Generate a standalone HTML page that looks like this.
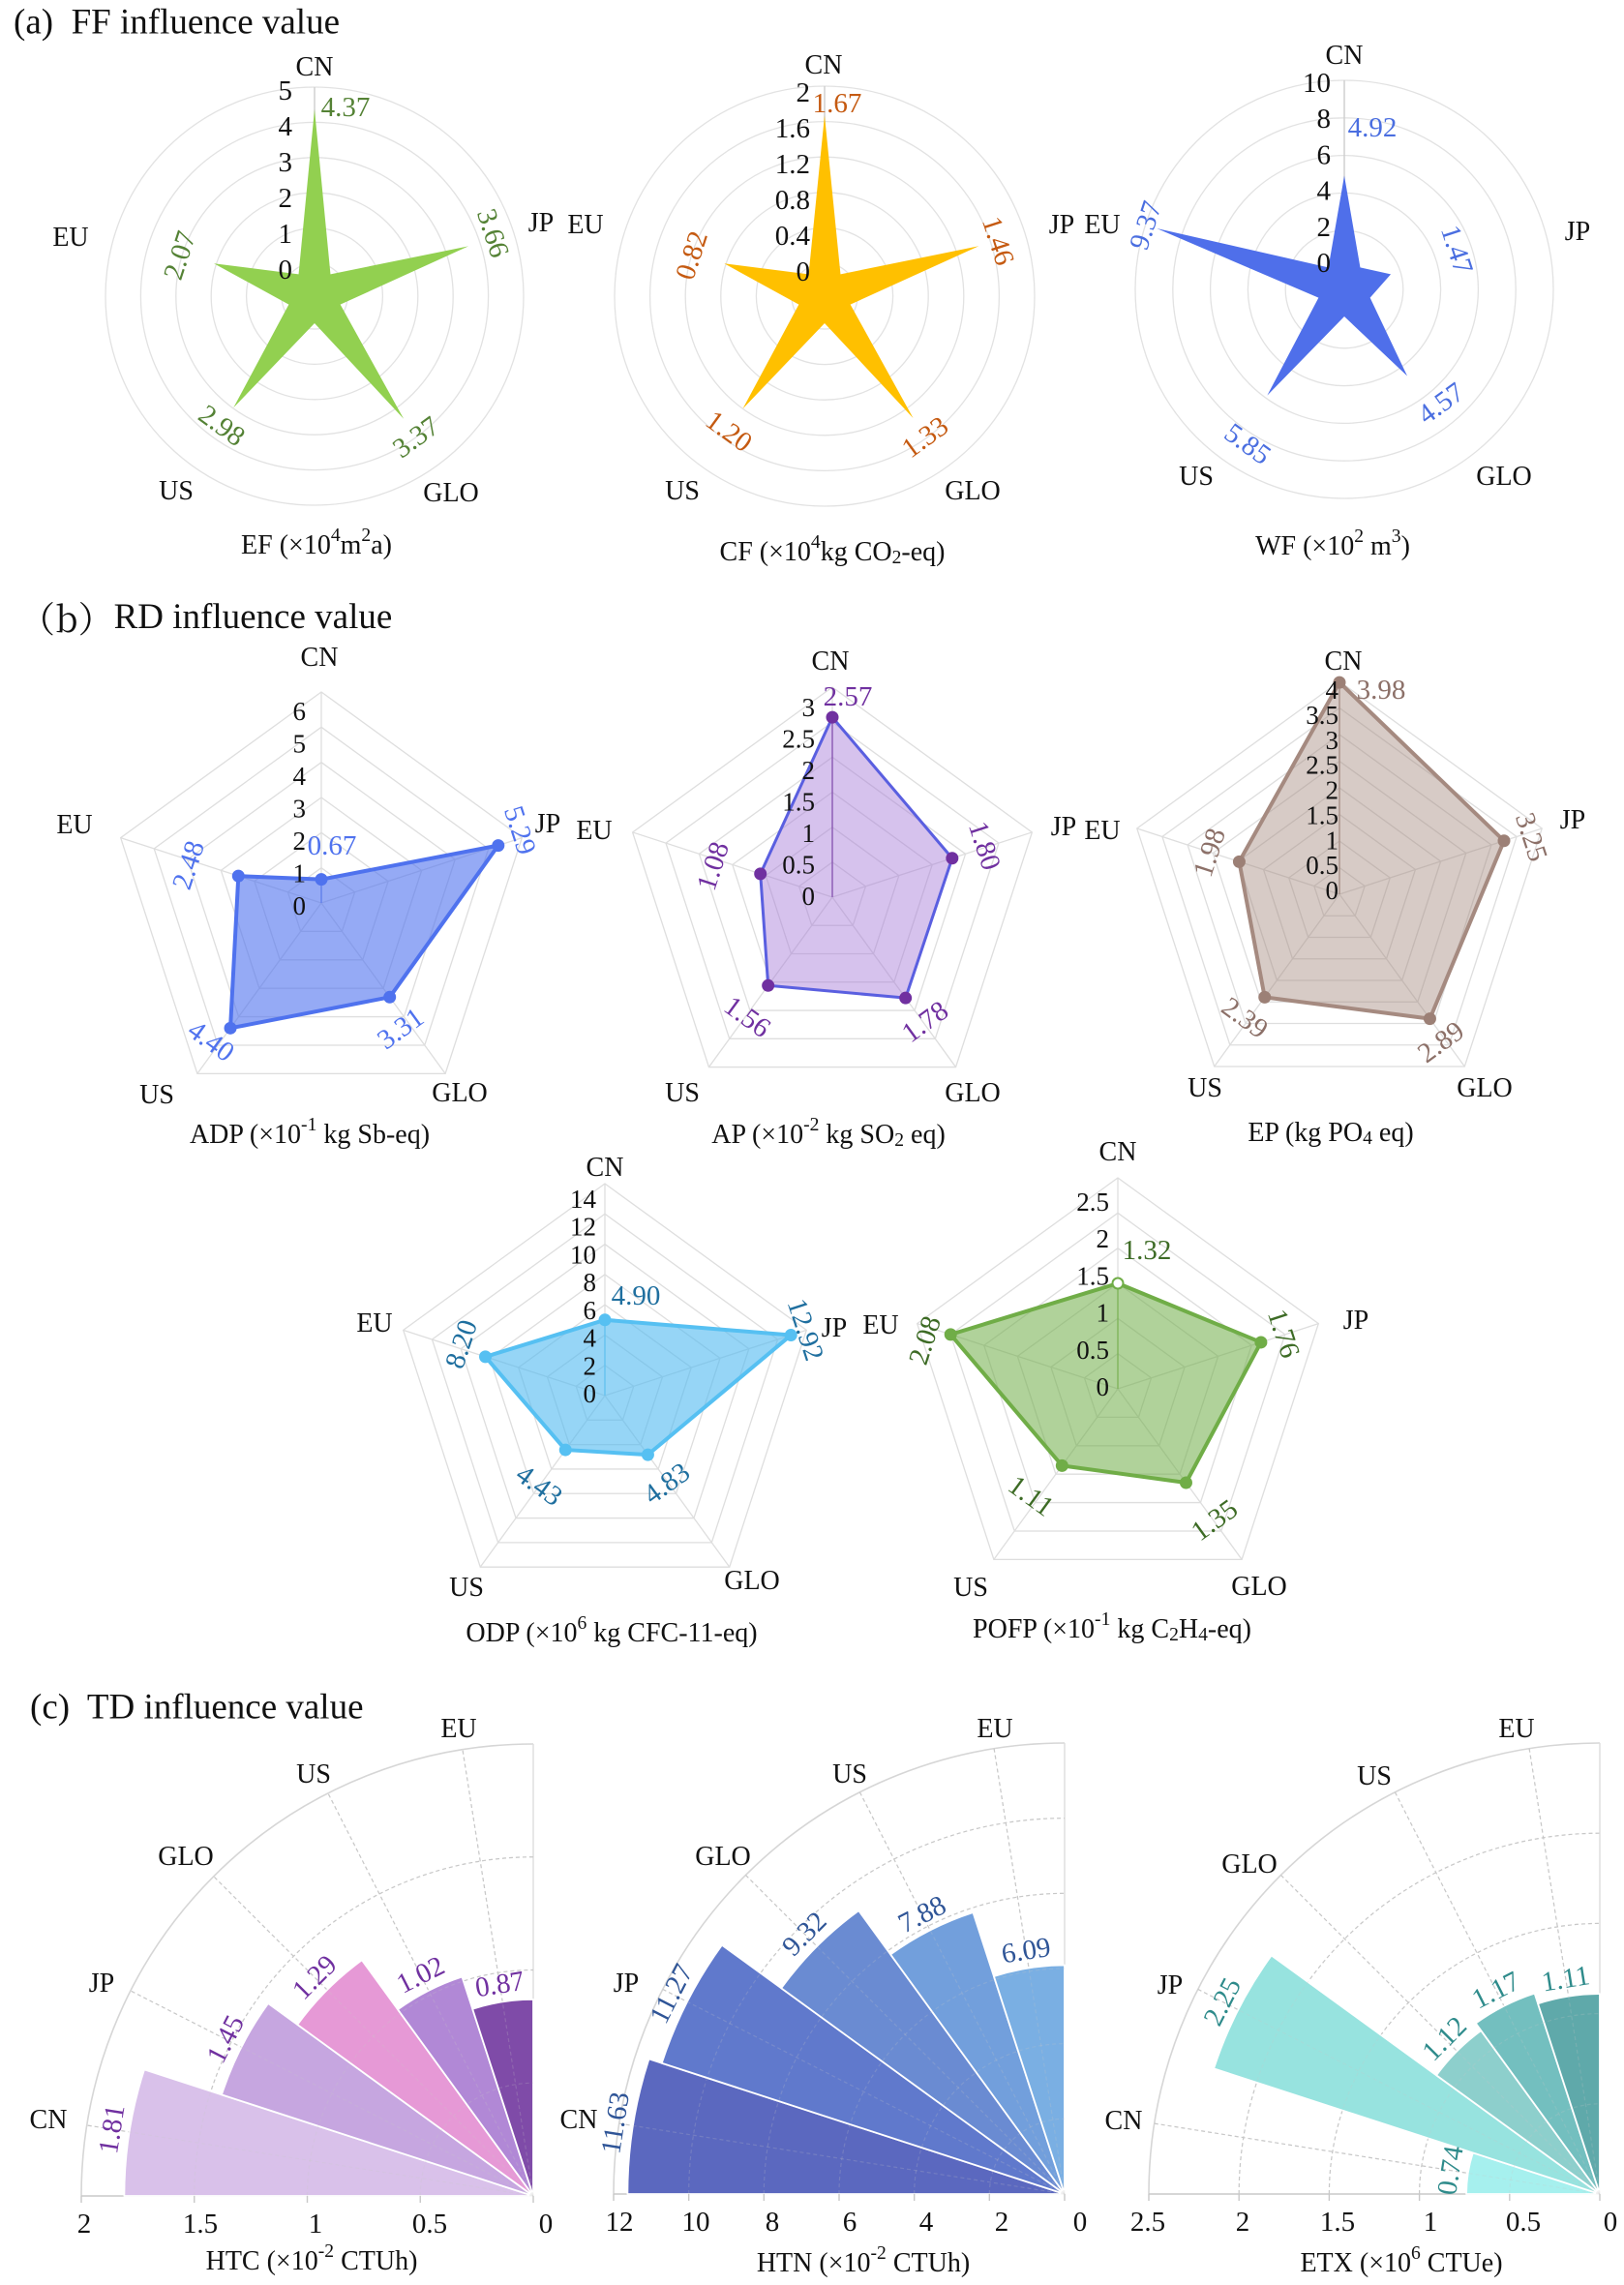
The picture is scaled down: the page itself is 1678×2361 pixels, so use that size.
<!DOCTYPE html>
<html><head><meta charset="utf-8"><style>
html,body{margin:0;padding:0;background:#fff;}
svg{display:block;}
text{font-family:"Liberation Serif","Times New Roman",serif;}
</style></head><body>
<svg id="s" xmlns="http://www.w3.org/2000/svg" width="1678" height="2361" viewBox="0 0 1678 2361" font-family="Liberation Serif, serif">
<rect width="1678" height="2361" fill="#fff"/>
<text x="14" y="23" font-size="37" dominant-baseline="central" fill="#111" xml:space="preserve">(a)  FF influence value</text>
<text x="20" y="637" font-size="37" dominant-baseline="central" fill="#111" style="font-family:'Noto Serif CJK SC','Liberation Serif',serif">（b）<tspan style="font-family:'Liberation Serif',serif">RD influence value</tspan></text>
<text x="31" y="1764" font-size="37" dominant-baseline="central" fill="#111" xml:space="preserve">(c)  TD influence value</text>
</svg>
<script>
const NS='http://www.w3.org/2000/svg';const svg=document.getElementById('s');
function mk(tag,attrs,parent){parent=parent||svg;const e=document.createElementNS(NS,tag);for(const k in attrs)e.setAttribute(k,attrs[k]);parent.appendChild(e);return e;}
function T(x,y,s,o){o=o||{};const fs=o.fs||28;const t=mk('text',{x:x,y:y,'text-anchor':o.a||'middle','dominant-baseline':'central','font-size':fs,fill:o.c||'#111','font-family':'Liberation Serif, serif'});
 if(o.rot)t.setAttribute('transform','rotate('+o.rot+' '+x+' '+y+')');
 let shift=0;const re=/([\^_])\{([^}]*)\}/g;let last=0,m;
 const add=(txt,target)=>{const sp=mk('tspan',{dy:(target-shift)},t);if(target!==0)sp.setAttribute('font-size',fs*0.7);sp.textContent=txt;shift=target;};
 while((m=re.exec(s))){if(m.index>last)add(s.slice(last,m.index),0);add(m[2],m[1]==='^'?-fs*0.35:fs*0.22);last=re.lastIndex;}
 if(last<s.length)add(s.slice(last),0);return t;}
function pol(cx,cy,r,deg){const a=deg*Math.PI/180;return [cx+r*Math.sin(a),cy-r*Math.cos(a)];}
const CATS=['CN','JP','GLO','US','EU'];

function radarA(p){
 for(let k=0;k<=5;k++)mk('circle',{cx:p.cx,cy:p.cy,r:p.r0+k*(p.R-p.r0)/5,fill:'none',stroke:'#e2e2e2','stroke-width':1.3});
 mk('line',{x1:p.cx,y1:p.cy,x2:p.cx,y2:p.cy-p.R,stroke:'#d0d0d0','stroke-width':1.5});
 let pts=[];
 for(let i=0;i<5;i++){const r=p.r0+(p.R-p.r0)*p.v[i]/p.max;pts.push(pol(p.cx,p.cy,r,i*72));pts.push(pol(p.cx,p.cy,28,i*72+36));}
 mk('polygon',{points:pts.map(q=>q.join(',')).join(' '),fill:p.fill});
 const n=p.ticks.length;for(let i=0;i<n;i++){const y=p.ty0+(p.ty1-p.ty0)*i/(n-1);T(p.tx,y,p.ticks[i],{a:'end',fs:29});}
 for(let i=0;i<5;i++)T(p.cat[i][0],p.cat[i][1],CATS[i]);
 for(let i=0;i<5;i++)T(p.lab[i][0],p.lab[i][1],p.v[i].toFixed(2),{c:p.lc,fs:29,rot:[0,72,-36,36,-72][i]});
 T(p.title[0],p.title[1],p.title[2]);
}
function radarB(p){
 for(let k=1;k<=p.n;k++){let pts=[];for(let i=0;i<5;i++)pts.push(pol(p.cx,p.cy,p.R*k/p.n,i*72));mk('polygon',{points:pts.map(q=>q.join(',')).join(' '),fill:'none',stroke:'#dedede','stroke-width':1.3});}
 for(let i=0;i<5;i++){const q=pol(p.cx,p.cy,p.R,i*72);mk('line',{x1:p.cx,y1:p.cy,x2:q[0],y2:q[1],stroke:'#dedede','stroke-width':1.3});}
 let pts=[];for(let i=0;i<5;i++)pts.push(pol(p.cx,p.cy,p.R*p.pv[i]/p.max,i*72));
 mk('polygon',{points:pts.map(q=>q.join(',')).join(' '),fill:p.fill,stroke:p.stroke,'stroke-width':p.sw||4,'stroke-linejoin':'round'});
 mk('line',{x1:p.cx,y1:p.cy,x2:pts[0][0],y2:pts[0][1],stroke:p.mc,'stroke-width':1.2,opacity:0.8});
 pts.forEach((q,i)=>mk('circle',{cx:q[0],cy:q[1],r:5.5,fill:(p.whiteCN&&i==0)?'#fff':p.mc,stroke:p.mc,'stroke-width':2}));
 const n=p.ticks.length;for(let i=0;i<n;i++){const y=p.ty0+(p.ty1-p.ty0)*i/(n-1);T(p.tx,y,p.ticks[i],{a:'end',fs:27});}
 for(let i=0;i<5;i++)T(p.cat[i][0],p.cat[i][1],CATS[i]);
 for(let i=0;i<5;i++)T(p.lab[i][0],p.lab[i][1],p.v[i].toFixed(2),{c:p.lc,fs:29,rot:[0,72,-36,36,-72][i]});
 T(p.title[0],p.title[1],p.title[2]);
}
function fan(p){
 const cx=p.cx,cy=p.cy,R=p.R;
 const P=(r,phi)=>{const a=phi*Math.PI/180;return [cx-r*Math.cos(a),cy-r*Math.sin(a)];};
 const arc=(r,a1,a2)=>{const s=P(r,a1),e=P(r,a2);return 'M'+s[0]+','+s[1]+' A'+r+','+r+' 0 0 1 '+e[0]+','+e[1];};
 const dashed=(op)=>{
  p.grid.forEach(v=>mk('path',{d:arc(R*v/p.max,0,90),fill:'none',stroke:'#c8c8c8','stroke-width':1.2,'stroke-dasharray':'4 3',opacity:op}));
  for(let i=0;i<5;i++){const q=P(R,i*18+9);mk('line',{x1:cx,y1:cy,x2:q[0],y2:q[1],stroke:'#c8c8c8','stroke-width':1.2,'stroke-dasharray':'4 3',opacity:op});}
 };
 mk('path',{d:arc(R,0,90),fill:'none',stroke:'#d6d6d6','stroke-width':1.6});
 mk('line',{x1:cx-R,y1:cy,x2:cx,y2:cy,stroke:'#c8c8c8','stroke-width':1.6});
 mk('line',{x1:cx,y1:cy-R,x2:cx,y2:cy,stroke:'#dddddd','stroke-width':1.4});
 dashed(1);
 for(let i=0;i<5;i++){const r=R*p.v[i]/p.max;const a=P(r,i*18),b=P(r,i*18+18);
  mk('path',{d:'M'+cx+','+cy+' L'+a[0]+','+a[1]+' A'+r+','+r+' 0 0 1 '+b[0]+','+b[1]+' Z',fill:p.colors[i],stroke:'#fff','stroke-width':1.8,'stroke-linejoin':'round'});}
 dashed(0.22);
 p.ticks.forEach(t=>{const x=cx-R*t[0]/p.max;mk('line',{x1:x,y1:cy,x2:x,y2:cy+7,stroke:'#c8c8c8','stroke-width':1.4});T(t[2],p.ty,t[1],{fs:29});});
 for(let i=0;i<5;i++){const r=R*p.v[i]/p.max+18;const q=P(r,i*18+9);T(q[0],q[1],p.v[i].toFixed(2),{c:p.lc,fs:29,rot:i*18+9-90});}
 for(let i=0;i<5;i++)T(p.cat[i][0],p.cat[i][1],CATS[i]);
 T(p.title[0],p.title[1],p.title[2]);
}

radarA({cx:325,cy:306,R:216,r0:34,max:5,v:[4.37,3.66,3.37,2.98,2.07],fill:'#92d050',lc:'#548235',
 ticks:['0','1','2','3','4','5'],ty0:279,ty1:94,tx:302,
 cat:[[325,69],[559,230],[466,509],[182,507],[73,245]],
 lab:[[357,111],[509,241],[430,452],[229,440],[186,264]],title:[327,563,'EF (×10^{4}m^{2}a)']});
radarA({cx:852,cy:306,R:217,r0:34,max:2,v:[1.67,1.46,1.33,1.20,0.82],fill:'#ffc000',lc:'#c55a11',
 ticks:['0','0.4','0.8','1.2','1.6','2'],ty0:281,ty1:96,tx:837,
 cat:[[851,67],[1097,232],[1005,507],[705,507],[605,232]],
 lab:[[865,107],[1031,249],[956,452],[753,446],[715,264]],title:[860,570,'CF (×10^{4}kg CO_{2}-eq)']});
radarA({cx:1389,cy:299,R:216,r0:22,max:10,v:[4.92,1.47,4.57,5.85,9.37],fill:'#4f6fea',lc:'#4a6ee0',
 ticks:['0','2','4','6','8','10'],ty0:272,ty1:86,tx:1375,
 cat:[[1389,57],[1630,239],[1554,492],[1236,492],[1139,232]],
 lab:[[1418,132],[1505,258],[1489,417],[1289,459],[1184,233]],title:[1377,564,'WF (×10^{2} m^{3})']});

radarB({cx:332,cy:933,R:218,n:6,max:6,v:[0.67,5.29,3.31,4.40,2.48],pv:[0.67,5.29,3.31,4.40,2.48],
 fill:'rgba(79,114,238,0.6)',stroke:'#4f72ee',mc:'#4f72ee',lc:'#4f72ee',
 ticks:['0','1','2','3','4','5','6'],ty0:936,ty1:735,tx:316,
 cat:[[330,679],[566,851],[475,1129],[162,1131],[77,852]],
 lab:[[343,874],[537,858],[414,1063],[218,1076],[195,894]],title:[320,1172,'ADP (×10^{-1} kg Sb-eq)']});
radarB({cx:860,cy:927,R:217,n:6,max:3,v:[2.57,1.80,1.78,1.56,1.08],pv:[2.57,1.80,1.78,1.56,1.08],
 fill:'rgba(165,120,215,0.45)',stroke:'#5a5fe0',sw:3,mc:'#7030a0',lc:'#7030a0',
 ticks:['0','0.5','1','1.5','2','2.5','3'],ty0:926,ty1:731,tx:842,
 cat:[[858,683],[1099,854],[1005,1129],[705,1129],[614,858]],
 lab:[[876,720],[1017,874],[956,1056],[772,1051],[737,895]],title:[856,1172,'AP (×10^{-2} kg SO_{2} eq)']});
radarB({cx:1384,cy:924,R:220,n:8,max:4,v:[3.98,3.25,2.89,2.39,1.98],pv:[3.98,3.25,2.89,2.39,1.98],
 fill:'rgba(160,130,120,0.42)',stroke:'#a58a80',mc:'#9c8076',lc:'#8c7068',
 ticks:['0','0.5','1','1.5','2','2.5','3','3.5','4'],ty0:920,ty1:713,tx:1383,
 cat:[[1388,683],[1625,847],[1534,1124],[1245,1124],[1139,858]],
 lab:[[1427,713],[1582,865],[1489,1077],[1286,1052],[1250,881]],title:[1375,1170,'EP (kg PO_{4} eq)']});
radarB({cx:625,cy:1442,R:219,n:7,max:14,v:[4.90,12.92,4.83,4.43,8.20],pv:[5.0,12.92,4.83,4.43,8.3],
 fill:'rgba(80,185,240,0.6)',stroke:'#56c0f2',mc:'#56c0f2',lc:'#1f6f9f',
 ticks:['0','2','4','6','8','10','12','14'],ty0:1440,ty1:1239,tx:616,
 cat:[[625,1206],[862,1372],[777,1633],[482,1640],[387,1367]],
 lab:[[657,1339],[832,1374],[689,1533],[557,1535],[477,1389]],title:[632,1687,'ODP (×10^{6} kg CFC-11-eq)']});
radarB({cx:1155,cy:1435,R:218,n:6,max:3,v:[1.32,1.76,1.35,1.11,2.08],pv:[1.5,2.14,1.65,1.35,2.5],
 fill:'rgba(112,173,71,0.55)',stroke:'#70ad47',mc:'#70ad47',lc:'#3d6b25',whiteCN:true,
 ticks:['0','0.5','1','1.5','2','2.5'],ty0:1433,ty1:1242,tx:1146,
 cat:[[1155,1190],[1401,1364],[1301,1639],[1003,1640],[910,1369]],
 lab:[[1185,1292],[1326,1378],[1255,1571],[1065,1546],[956,1385]],title:[1149,1683,'POFP (×10^{-1} kg C_{2}H_{4}-eq)']});

fan({cx:551,cy:2269,R:467,max:2,v:[1.81,1.45,1.29,1.02,0.87],grid:[0.5,1,1.5],
 colors:['#d9c1ea','#c6a6e0','#e699d6','#b188d6','#7f4ba8'],lc:'#7030a0',
 ticks:[[2,'2',87],[1.5,'1.5',207],[1,'1',326],[0.5,'0.5',444],[0,'0',564]],ty:2298,
 cat:[[50,2190],[105,2049],[192,1918],[324,1833],[474,1786]],title:[322,2336,'HTC (×10^{-2} CTUh)']});
fan({cx:1100,cy:2267,R:466,max:12,v:[11.63,11.27,9.32,7.88,6.09],grid:[2,4,6,8,10],
 colors:['#5b68bf','#6079cc','#6a8bd2','#729fdc','#7aafe3'],lc:'#2f5597',
 ticks:[[12,'12',640],[10,'10',719],[8,'8',798],[6,'6',878],[4,'4',957],[2,'2',1035],[0,'0',1116]],ty:2296,
 cat:[[598,2190],[647,2049],[747,1918],[878,1833],[1028,1786]],title:[892,2338,'HTN (×10^{-2} CTUh)']});
fan({cx:1653,cy:2267,R:466,max:2.5,v:[0.74,2.25,1.12,1.17,1.11],grid:[0.5,1,1.5,2],
 colors:['#a6f0ee','#97e3df','#8dcfcc','#73bfbf','#5fa9aa'],lc:'#2e8b8b',
 ticks:[[2.5,'2.5',1186],[2,'2',1284],[1.5,'1.5',1382],[1,'1',1478],[0.5,'0.5',1574],[0,'0',1664]],ty:2296,
 cat:[[1161,2191],[1209,2051],[1291,1926],[1420,1835],[1567,1786]],title:[1448,2338,'ETX (×10^{6} CTUe)']});
</script>
</body></html>
